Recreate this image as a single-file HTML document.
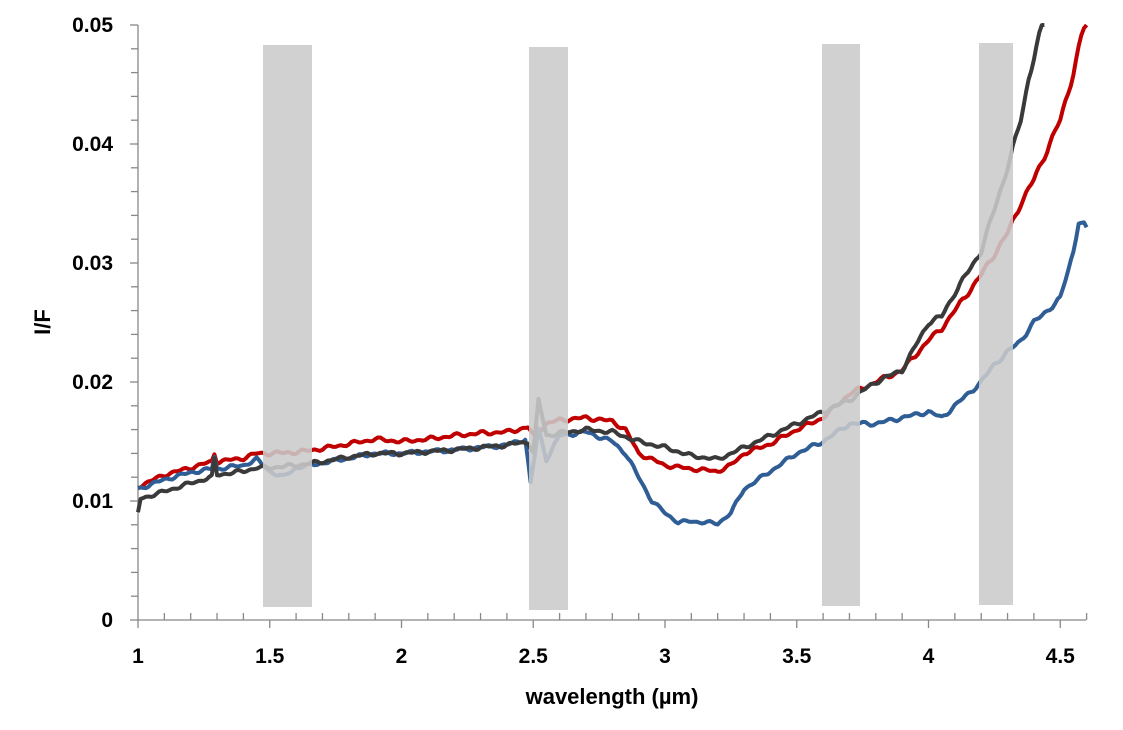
<!DOCTYPE html><html><head><meta charset="utf-8"><style>body{margin:0;background:#fff}svg{display:block}text{font-family:"Liberation Sans",sans-serif;font-weight:bold;fill:#000}</style></head><body>
<svg id="s" width="1123" height="730" xmlns="http://www.w3.org/2000/svg">
<g id="ax" stroke="#888" stroke-width="1.3"></g>
<g id="ln" fill="none" stroke-width="4" stroke-linejoin="round"></g>
<g fill="#cbcbcb" opacity="0.88">
<rect x="263" y="45" width="49" height="562"/>
<rect x="529" y="47" width="39" height="563"/>
<rect x="822" y="44" width="38" height="562"/>
<rect x="979" y="43" width="34" height="562"/>
</g>
<g id="tx" font-size="21"></g>
<text x="612" y="704" font-size="22" text-anchor="middle">wavelength (µm)</text>
<text transform="translate(50,322) rotate(-90)" font-size="22" text-anchor="middle">I/F</text>
</svg>
<script>
const X=w=>138+(w-1)*263.5, Y=v=>620-v*11900;
const ax=document.getElementById('ax'),tx=document.getElementById('tx');
let h='';
h+=`<line x1="138" y1="25" x2="138" y2="620"/><line x1="138" y1="620" x2="1086" y2="620"/>`;
for(let i=0;i<=25;i++){const y=Y(i*0.002);h+=`<line x1="${i%5?131:130}" y1="${y}" x2="138" y2="${y}"/>`;}
for(let i=0;i<=36;i++){const x=X(1+i*0.1);h+= i%5? `<line x1="${x}" y1="613" x2="${x}" y2="620"/>`:`<line x1="${x}" y1="620" x2="${x}" y2="628"/>`;}
ax.innerHTML=h;
let t='';
for(let i=0;i<=5;i++)t+=`<text x="113" y="${Y(i*0.01)+7}" text-anchor="end">${i?(i/100).toFixed(2):'0'}</text>`;
['1','1.5','2','2.5','3','3.5','4','4.5'].forEach((s,i)=>t+=`<text x="${X(1+i*0.5)}" y="663" text-anchor="middle">${s}</text>`);
tx.innerHTML=t;
const R=[[1,.0112],[1.1,.0122],[1.2,.0128],[1.28,.0133],[1.29,.014],[1.3,.0133],[1.4,.0136],[1.45,.014],[1.5,.014],[1.6,.0141],[1.7,.0144],[1.8,.0148],[1.9,.0152],[2,.015],[2.1,.0152],[2.2,.0155],[2.3,.0157],[2.4,.0158],[2.48,.0162],[2.5,.0155],[2.55,.0165],[2.6,.0168],[2.7,.017],[2.8,.0167],[2.85,.016],[2.9,.014],[2.95,.0135],[3,.013],[3.1,.0127],[3.2,.0125],[3.25,.013],[3.3,.014],[3.4,.0148],[3.5,.016],[3.6,.017],[3.7,.019],[3.8,.02],[3.9,.021],[4,.0235],[4.05,.0245],[4.1,.026],[4.2,.029],[4.3,.0325],[4.35,.035],[4.4,.037],[4.5,.042],[4.55,.046],[4.58,.049],[4.6,.0505]];
const K=[[1,.009],[1.01,.0102],[1.1,.0108],[1.2,.0115],[1.28,.012],[1.29,.0135],[1.3,.0122],[1.4,.0125],[1.45,.0128],[1.5,.0128],[1.6,.013],[1.7,.0133],[1.8,.0137],[1.9,.014],[2,.014],[2.2,.0143],[2.4,.0147],[2.48,.015],[2.5,.014],[2.52,.0185],[2.55,.0155],[2.6,.0157],[2.7,.016],[2.8,.0158],[2.9,.015],[3,.0145],[3.1,.0138],[3.2,.0135],[3.3,.0145],[3.4,.0155],[3.5,.0165],[3.6,.0175],[3.7,.0185],[3.8,.02],[3.9,.021],[4,.025],[4.05,.0255],[4.1,.0275],[4.2,.031],[4.25,.0345],[4.3,.038],[4.35,.042],[4.38,.0455],[4.42,.049],[4.44,.0505]];
const B=[[1,.011],[1.1,.0118],[1.2,.0124],[1.28,.0127],[1.29,.0137],[1.3,.0127],[1.4,.013],[1.45,.0135],[1.5,.0125],[1.55,.012],[1.6,.0128],[1.7,.0132],[1.8,.0136],[1.9,.014],[2,.014],[2.2,.0143],[2.4,.0147],[2.47,.0152],[2.49,.0115],[2.52,.016],[2.55,.0135],[2.6,.0155],[2.7,.0158],[2.8,.015],[2.85,.014],[2.9,.012],[2.95,.01],[3,.009],[3.05,.0082],[3.1,.0083],[3.2,.0081],[3.25,.009],[3.3,.011],[3.4,.0125],[3.5,.014],[3.6,.015],[3.7,.0165],[3.8,.0165],[3.9,.017],[4,.0175],[4.05,.017],[4.1,.018],[4.2,.02],[4.25,.0215],[4.3,.0225],[4.35,.0235],[4.4,.025],[4.5,.027],[4.55,.031],[4.57,.0335],[4.6,.033]];
function path(d,c,seed){
 let pts=[];
 for(let i=0;i<d.length-1;i++){const [a,va]=d[i],[b,vb]=d[i+1];const n=Math.max(1,Math.round((b-a)/0.01));
  for(let k=0;k<n;k++){const w=a+(b-a)*k/n;let v=va+(vb-va)*k/n;v+=0.00012*Math.sin(w*97+seed)*Math.sin(w*31+seed*2)*(1+v*40);pts.push([X(w),Y(v)]);}}
 pts.push([X(d[d.length-1][0]),Y(d[d.length-1][1])]);
 return `<polyline stroke="${c}" points="${pts.map(p=>p[0].toFixed(1)+','+Math.max(25,p[1]).toFixed(1)).join(' ')}"/>`;
}
document.getElementById('ln').innerHTML=path(R,'#c00000',1)+path(B,'#2f5d95',2)+path(K,'#3a3a3a',3);
</script>
</body></html>
